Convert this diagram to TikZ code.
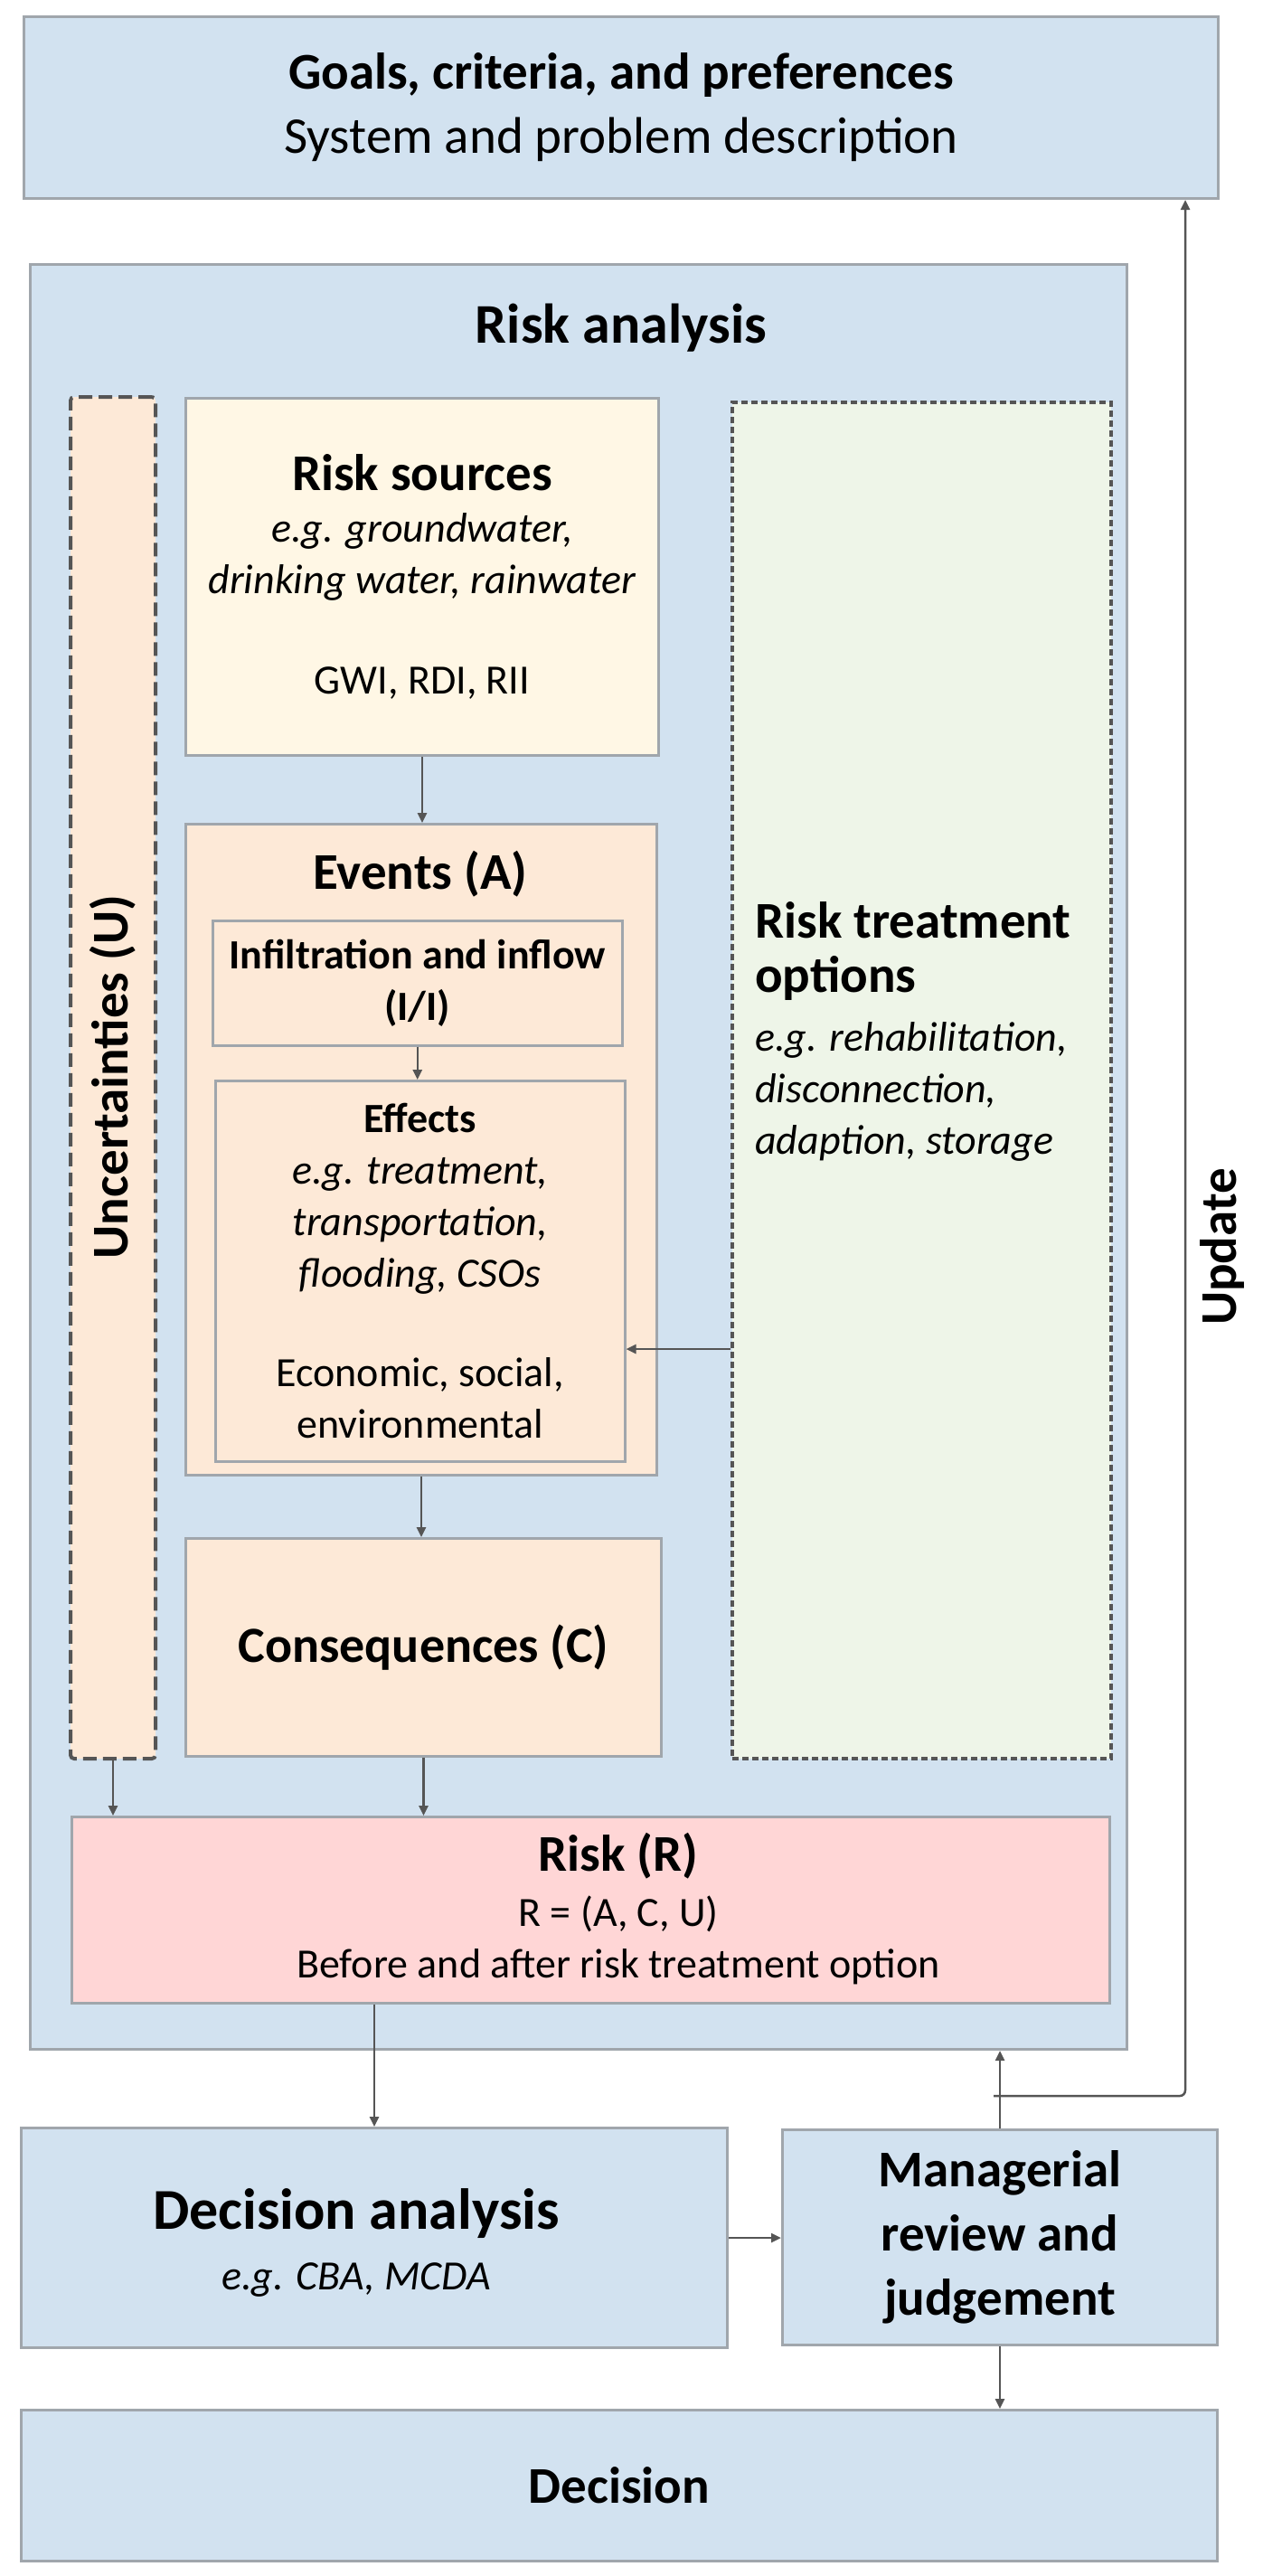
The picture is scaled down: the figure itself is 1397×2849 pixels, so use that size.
\documentclass[tikz,border=0pt]{standalone}
\usepackage{fontspec}
\setmainfont{Carlito}
\usetikzlibrary{positioning, arrows.meta}
\definecolor{paleblue}{RGB}{210, 226, 240}
\definecolor{palecream}{RGB}{255, 247, 229}
\definecolor{palepeach}{RGB}{253, 233, 215}
\definecolor{palegreen}{RGB}{238, 245, 232}
\definecolor{palepink}{RGB}{255, 214, 214}
\definecolor{edgegray}{RGB}{160, 166, 172}
\definecolor{linegray}{RGB}{85, 85, 85}
\newcommand{\titlesize}{\fontsize{57}{71}\selectfont}
\newcommand{\bodysize}{\fontsize{46}{57}\selectfont}

\begin{document}
\begin{tikzpicture}[
    x=1pt, y=-1pt,
    box/.style={rectangle, draw=edgegray, line width=3pt, anchor=north west, align=center, inner sep=0pt, font=\bodysize},
    bluebox/.style={box, fill=paleblue},
    peachbox/.style={box, fill=palepeach},
    dashbox/.style={box, draw=linegray, line width=4pt},
    label text/.style={align=center, inner sep=0pt, font=\bodysize},
    arrow/.style={-{Triangle[length=11pt, width=10pt]}, line width=2.5pt, linegray}
]
    \useasboundingbox (0,0) rectangle (1397,2849);

    \node[bluebox, minimum width=1321pt, minimum height=201pt, font=\titlesize] (goals) at (25,17) {\textbf{Goals, criteria, and preferences}\\System and problem description};

    % risk analysis block
    \node[bluebox, minimum width=1213pt, minimum height=1974pt] (ra) at (32,291) {};
    \node[font=\fontsize{62}{74}\selectfont\bfseries] (ratitle) at (687,363) {Risk analysis};

    \node[dashbox, fill=palepeach, dash pattern=on 15pt off 7pt, rounded corners=4pt, minimum width=94pt, minimum height=1506pt] (unc) at (76,437) {};
    \node[rotate=90, font=\titlesize\bfseries] (unclabel) at (125,1191) {Uncertainties (U)};

    \node[box, fill=palecream, minimum width=523pt, minimum height=395pt] (src) at (204,439) {{\titlesize\textbf{Risk sources}}\\ \textit{e.g. groundwater,}\\ \textit{drinking water, rainwater}\\[54pt] GWI, RDI, RII};

    \node[peachbox, minimum width=521pt, minimum height=720pt] (events) at (204,910) {};
    \node[font=\titlesize\bfseries] (evlabel) at (465,967) {Events (A)};
    \node[peachbox, line width=2.5pt, minimum width=453pt, minimum height=138pt, font=\bodysize\bfseries] (infl) at (234,1017) {Infiltration and inflow\\(I/I)};
    \node[peachbox, line width=2.5pt, minimum width=453pt, minimum height=421pt] (eff) at (237,1194) {\textbf{Effects}\\ \textit{e.g. treatment,}\\ \textit{transportation,}\\ \textit{flooding, CSOs}\\[53pt] Economic, social,\\ environmental};

    \node[peachbox, minimum width=526pt, minimum height=241pt, font=\fontsize{56}{68}\selectfont\bfseries] (cons) at (204,1700) {Consequences (C)};

    \node[dashbox, fill=palegreen, dash pattern=on 7pt off 4pt, minimum width=419pt, minimum height=1500pt] (treat) at (808,443) {};
    \node[anchor=west, align=left, inner sep=0pt, font=\bodysize] (treatlabel) at (835,1141) {{\titlesize\textbf{Risk treatment}}\\[3pt] {\titlesize\textbf{options}}\\[8pt] \textit{e.g. rehabilitation,}\\ \textit{disconnection,}\\ \textit{adaption, storage}};

    \node[box, fill=palepink, minimum width=1148pt, minimum height=206pt] (risk) at (78,2008) {};
    \node[label text] (risklabel) at (684,2111) {{\titlesize\textbf{Risk (R)}}\\[4pt] R = (A, C, U)\\ Before and after risk treatment option};

    % decision part
    \node[bluebox, minimum width=781pt, minimum height=243pt] (dana) at (22,2352) {};
    \node[label text] (danalabel) at (394,2480) {{\fontsize{64}{76}\selectfont\bfseries Decision analysis}\\[10pt] \textit{e.g. CBA, MCDA}};
    \node[bluebox, minimum width=481pt, minimum height=238pt, font=\titlesize\bfseries] (mgr) at (864,2354) {Managerial\\review and\\judgement};
    \node[bluebox, minimum width=1323pt, minimum height=167pt, font=\titlesize\bfseries] (dec) at (22,2664) {Decision};

    \coordinate (split) at (1099,2318);
    \node[rotate=90, font=\titlesize\bfseries] (updlabel) at (1352,1379) {Update};

    \draw[arrow] (src.south) -- (src.south |- events.north);
    \draw[arrow] (infl.south) -- (infl.south |- eff.north);
    \draw[arrow] (events.south) -- (events.south |- cons.north);
    \draw[arrow] (cons.south) -- (cons.south |- risk.north);
    \draw[arrow] (unc.south) -- (unc.south |- risk.north);
    \draw[arrow] ([yshift=-297pt]treat.west) -- ([yshift=-297pt]treat.west -| eff.east);
    \draw[arrow] (dana.north |- risk.south) -- (dana.north);
    \draw[arrow] (dana.east) -- (dana.east -| mgr.west);
    \draw[arrow] (mgr.north) -- (mgr.north |- ra.south);
    \draw[arrow] (mgr.south) -- (mgr.south |- dec.north);
    \draw[arrow, rounded corners=6pt] (split) -| ([xshift=-38pt]goals.south east);
\end{tikzpicture}
\end{document}
